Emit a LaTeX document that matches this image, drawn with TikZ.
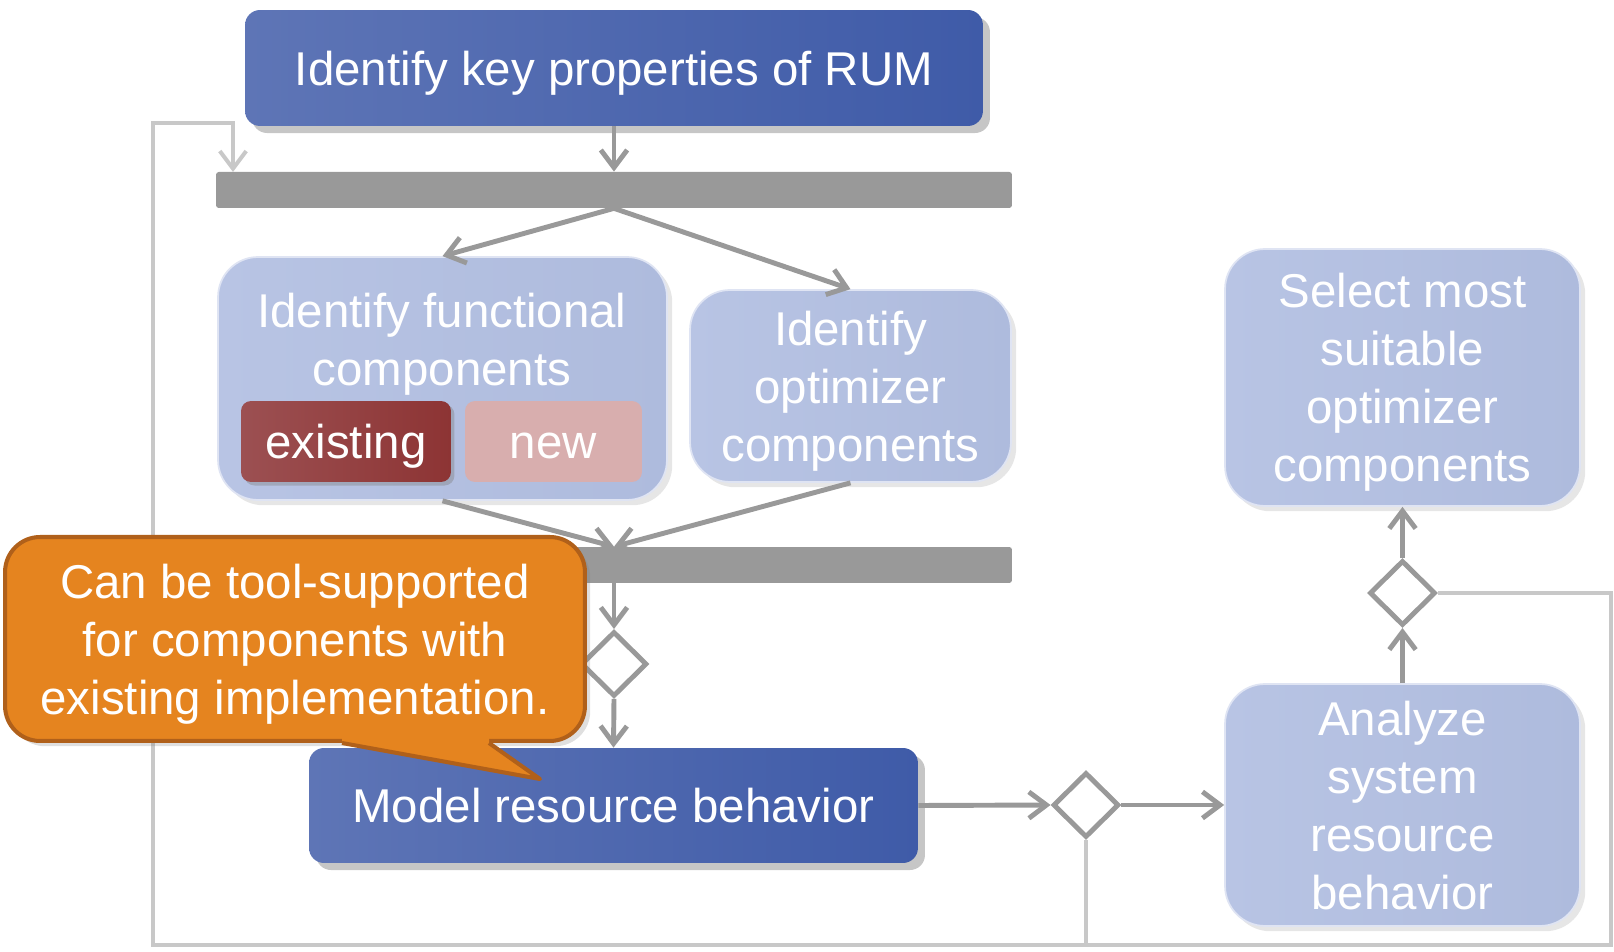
\documentclass[tikz,border=0pt]{standalone}
\usepackage{fontspec}
\setmainfont{Liberation Sans}
\usetikzlibrary{arrows.meta,shapes.geometric,shadows,positioning,calc}

\definecolor{rumblue}{RGB}{63,91,168}
\definecolor{rumblueleft}{RGB}{94,117,182}
\definecolor{rumbluemid}{RGB}{72,104,190}
\definecolor{paleblue}{RGB}{184,196,228}
\definecolor{palebluedark}{RGB}{174,187,221}
\definecolor{exleft}{RGB}{156,80,82}
\definecolor{exmid}{RGB}{163,60,60}
\definecolor{exright}{RGB}{141,52,52}
\definecolor{newpink}{RGB}{216,174,174}
\definecolor{bargray}{RGB}{153,153,153}
\definecolor{loopgray}{RGB}{200,200,200}
\definecolor{noteorange}{RGB}{229,132,31}
\definecolor{noteedge}{RGB}{176,96,26}

\begin{document}
\begin{tikzpicture}[
    x=0.02cm, y=-0.02cm,
    every node/.style={font=\fontsize{27}{33}\selectfont, text=white, align=center, inner sep=0pt, text depth=0pt},
    darkbox/.style={rounded corners=0.3cm, left color=rumblueleft, middle color=rumbluemid, right color=rumblue,
      minimum height=2.3cm, drop shadow={shadow xshift=4pt, shadow yshift=-4pt, opacity=0.45}},
    lightbox/.style={rounded corners=0.8cm, left color=paleblue, right color=palebluedark,
      draw=white!55!paleblue, line width=1pt, drop shadow={shadow xshift=3pt, shadow yshift=-3pt, opacity=0.2}},
    tagbox/.style={rounded corners=0.2cm, minimum height=1.62cm, text height=19.5pt},
    bar/.style={fill=bargray, rounded corners=1.5pt, minimum width=15.92cm, minimum height=0.72cm},
    decision/.style={diamond, draw=bargray, fill=white, line width=2.8pt, minimum width=1.32cm, minimum height=1.3cm},
    flow/.style={draw=bargray, line width=2.8pt, -{Straight Barb[length=10pt,width=15pt]}},
    loop/.style={draw=loopgray, line width=2.3pt}
  ]
  \useasboundingbox (0,0) rectangle (1614,952);

  % activities, bars and decisions
  \node[darkbox, minimum width=14.76cm, minimum height=2.32cm] (props) at (614,68) {Identify key properties of RUM};
  \node[bar] (fork) at (614,190) {};

  \node[lightbox, minimum width=8.98cm, minimum height=4.86cm] (func) at (442.5,378.5) {};
  \node (functext) at (442,339) {Identify functional\\components};
  \node[tagbox, left color=exleft, middle color=exmid, right color=exright, minimum width=4.2cm,
    drop shadow={shadow xshift=2pt, shadow yshift=-2pt, opacity=0.4}] (existing) at (346,441.5) {existing};
  \node[tagbox, fill=newpink, minimum width=3.54cm] (new) at (553.5,441.5) {new};

  \node[lightbox, minimum width=6.42cm, minimum height=3.84cm] (opt) at (850.5,386) {Identify\\optimizer\\components};
  \node[bar] (join) at (614,565) {};
  \node[decision] (merge) at (614,664) {};
  \node[darkbox, minimum width=12.18cm] (model) at (613.5,805.5) {Model resource behavior};
  \node[decision] (check) at (1086,805) {};
  \node[lightbox, minimum width=7.1cm, minimum height=4.84cm] (analyze) at (1402.5,805) {Analyze\\system\\resource\\behavior};
  \node[decision] (pick) at (1402.5,593) {};
  \node[lightbox, minimum width=7.1cm, minimum height=5.14cm] (select) at (1402.5,377.5) {Select most\\suitable\\optimizer\\components};

  % control flow
  \draw[flow] (props.south) -- (fork.north);
  \draw[flow] (fork.south) -- (func.north);
  \draw[flow] (fork.south) -- (opt.north);
  \draw[flow] (func.south) -- (join.north);
  \draw[flow] (opt.south) -- (join.north);
  \draw[flow] (join.south) -- (merge.north);
  \draw[flow] (merge.south) -- (model.north);
  \draw[flow] (model.east) -- (check.west);
  \draw[flow] (check.east) -- (analyze.west);
  \draw[flow] (analyze.north) -- (pick.south);
  \draw[flow] (pick.north) -- (select.south);

  % way back to the first bar
  \coordinate (br) at (1611,945);
  \coordinate (bl) at (153,945);
  \coordinate (tl) at (153,123);
  \coordinate (loopin) at (233,172);
  \draw[loop] (check.south) -- (check.south |- bl);
  \draw[loop, -{Straight Barb[length=10pt,width=15pt]}] (pick.east) -| (br) -- (bl) -- (tl) -| (loopin);

  % note
  \node[rounded corners=0.7cm, fill=noteorange, draw=noteedge, line width=2.3pt, minimum width=11.6cm, minimum height=4.08cm,
    drop shadow={shadow xshift=3pt, shadow yshift=-3pt, opacity=0.25}] (note) at (295,639)
    {Can be tool-supported\\for components with\\existing implementation.};
  \coordinate (tip) at (540,779);
  \fill[noteorange] ($(note.south)+(47,-10)$) -- ($(note.south)+(47,0)$) -- (tip) -- ($(note.south)+(194,0)$) -- ($(note.south)+(194,-10)$) -- cycle;
  \draw[noteedge, line width=2.3pt, line join=round] ($(note.south)+(47,0)$) -- (tip) -- ($(note.south)+(194,0)$);
\end{tikzpicture}
\end{document}
